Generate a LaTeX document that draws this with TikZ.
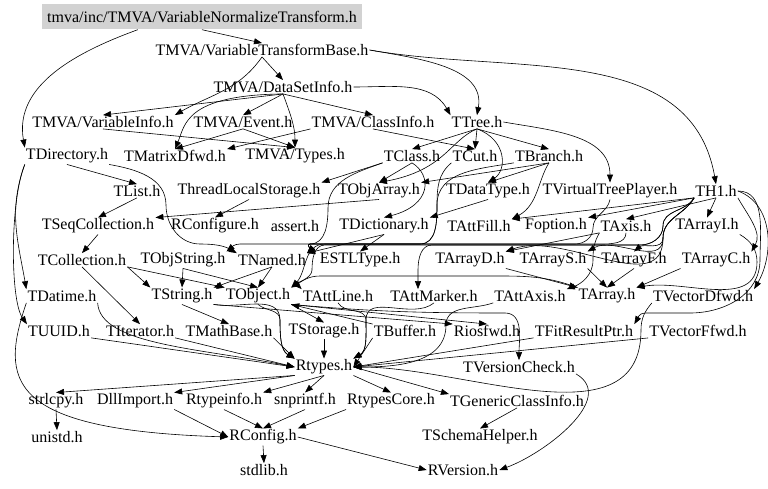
\documentclass[tikz,border=0pt]{standalone}
\usepackage{fontspec}
\setmainfont{Liberation Serif}
\usepackage{tikz}
\usetikzlibrary{arrows.meta,calc}

\begin{document}
\begin{tikzpicture}[x=1pt,y=-1pt]
	\tikzstyle{every node} = [inner sep = 1pt, font = \fontsize{16}{18}\selectfont]
	\tikzstyle{dep} = [draw, line width = 0.6pt, -{Triangle[length=8pt,width=6pt]}]
	\useasboundingbox (0,0) rectangle (768,489);
% top
\node[fill = gray!35, minimum width = 320, minimum height = 25] (vnt) at (202,17) {tmva/inc/TMVA/VariableNormalizeTransform.h};
\node (vtb) at (262,50) {TMVA/VariableTransformBase.h};
\node (dsi) at (283,87) {TMVA/DataSetInfo.h};
\node (vinfo) at (103,122) {TMVA/VariableInfo.h};
\node (event) at (243,122) {TMVA/Event.h};
\node (cinfo) at (373,122) {TMVA/ClassInfo.h};
\node (ttree) at (477,122) {TTree.h};
\node (tdir) at (67,156) {TDirectory.h};
\node (tmat) at (175,156) {TMatrixDfwd.h};
\node (types) at (295,156) {TMVA/Types.h};
\node (tclass) at (412,156) {TClass.h};
\node (tcut) at (475,156) {TCut.h};
\node (tbranch) at (549,156) {TBranch.h};
\node (tlist) at (137,191) {TList.h};
\node (tls) at (249,191) {ThreadLocalStorage.h};
\node (tobjarr) at (379,191) {TObjArray.h};
\node (tdtype) at (488,191) {TDataType.h};
\node (tvtp) at (610,191) {TVirtualTreePlayer.h};
\node (th1) at (716,191) {TH1.h};
\node (tseq) at (98,226) {TSeqCollection.h};
\node (rconfigure) at (215,226) {RConfigure.h};
\node (assert) at (295,226) {assert.h};
\node (tdict) at (384,226) {TDictionary.h};
\node (tattfill) at (479,226) {TAttFill.h};
\node (foption) at (556,226) {Foption.h};
\node (taxis) at (626,226) {TAxis.h};
\node (tarri) at (707,226) {TArrayI.h};
\node (tcoll) at (82,260) {TCollection.h};
\node (tobjstr) at (183,260) {TObjString.h};
\node (tnamed) at (272,260) {TNamed.h};
\node (estl) at (360,260) {ESTLType.h};
\node (tarrd) at (470,260) {TArrayD.h};
\node (tarrs) at (553,260) {TArrayS.h};
\node (tarrf) at (634,260) {TArrayF.h};
\node (tarrc) at (716,260) {TArrayC.h};
\node (tdatime) at (62,296) {TDatime.h};
\node (tstring) at (182,296) {TString.h};
\node (tobject) at (258,296) {TObject.h};
\node (tattline) at (338,296) {TAttLine.h};
\node (tattmarker) at (434,296) {TAttMarker.h};
\node (tattaxis) at (530,296) {TAttAxis.h};
\node (tarray) at (607,296) {TArray.h};
\node (tvecd) at (703,296) {TVectorDfwd.h};
\node (tuuid) at (59,331) {TUUID.h};
\node (titer) at (140,331) {TIterator.h};
\node (tmath) at (229,331) {TMathBase.h};
\node (tstorage) at (324,331) {TStorage.h};
\node (tbuffer) at (405,331) {TBuffer.h};
\node (riosfwd) at (487,331) {Riosfwd.h};
\node (tfit) at (584,331) {TFitResultPtr.h};
\node (tvecf) at (698,331) {TVectorFfwd.h};
% bottom
\node (rtypes) at (324,367) {Rtypes.h};
\node (tvcheck) at (519,367) {TVersionCheck.h};
\node (strlcpy) at (56,401) {strlcpy.h};
\node (dllimport) at (135,401) {DllImport.h};
\node (rtypeinfo) at (224,401) {Rtypeinfo.h};
\node (snprintf) at (305,401) {snprintf.h};
\node (rtcore) at (391,401) {RtypesCore.h};
\node (tgci) at (517,401) {TGenericClassInfo.h};
\node (unistd) at (57,437) {unistd.h};
\node (rconfig) at (263,437) {RConfig.h};
\node (tschema) at (480,437) {TSchemaHelper.h};
\node (stdlib) at (264,470) {stdlib.h};
\node (rversion) at (463,470) {RVersion.h};
% TMVA part
	\path[dep] (vnt.south) -- (vtb.north);
	\path[dep] (vnt.south west) ++(96,0) to[out=200,in=100] (tdir.north west);
	\path[dep] (vtb.south) -- (dsi.north);
	\path[dep] (vtb.south) to[out=235,in=30] (vinfo.north east);
	\path[dep] (vtb.east) to[out=-10,in=80] (ttree.north);
	\path[dep] (vtb.east) to[out=-10,in=100] (th1.north);
	\path[dep] (dsi.south) -- (vinfo.north);
	\path[dep] (dsi.south) -- (event.north);
	\path[dep] (dsi.south) -- (cinfo.north);
	\path[dep] (dsi.south) to[out=-70,in=90] (types.north);
	\path[dep] (dsi.east) to[out=0,in=120] (ttree.north west);
	\path[dep] (dsi.south) .. controls (185,95) and (185,125) .. (tmat.north);
	\path[dep] (event.south) -- (types.north);
	\path[dep] (event.south) -- (tmat.north);
	\path[dep] (cinfo.south west) -- (tmat.north east);
	\path[dep] (cinfo.south) -- (tcut.north);
	\path[dep] (vinfo.south) -- (types.north);
% TTree part
	\path[dep] (ttree.south) -- (tbranch.north);
	\path[dep] (ttree.south) .. controls (507,140) and (507,170) .. (tdtype.north);
	\path[dep] (ttree.east) to[out=-10,in=90] (tvtp.north);
	\path[dep] (ttree.south) .. controls (450,140) and (445,170) .. (tobjarr.north);
	\path[dep] (ttree.south) -- (tclass.north);
	\path[dep] (ttree.south) -- (tcut.north);
	\path[dep] (tdir.south east) to[out=-10,in=90] (166,205) to[out=-90,in=180] (200,244) to[out=0,in=150] (tnamed.north west);
	\path[dep] (tdir.south) -- (tlist.north);
	\path[dep] (tdir.south west) to[out=250,in=100] (tdatime.north west);
	\path[dep] (tdir.south west) .. controls (10,200) and (10,300) .. (tuuid.north west);
	\path[dep] (tclass.south) .. controls (432,175) and (432,205) .. (tdict.north);
	\path[dep] (tclass.south) -- (tobjarr.north);
	\path[dep] (tclass.south west) to[out=200,in=90] (328,208) to[out=-90,in=0] (310,244) -- (240,244) to[out=180,in=40] (tobjstr.north east);
	\path[dep] (tclass.south west) -- (tls.north east);
	\path[dep] (tcut.south west) to[out=220,in=90] (437,205) to[out=-90,in=0] (420,244) -- (310,244) to[out=180,in=45] (tnamed.north east);
	\path[dep] (tbranch.south west) to[out=190,in=90] (437,205) to[out=-90,in=0] (420,244) -- (310,244) to[out=180,in=45] (tnamed.north east);
	\path[dep] (tbranch.south) -- (tobjarr.north east);
	\path[dep] (tbranch.south) .. controls (538,180) and (538,205) .. (tattfill.north east);
	\path[dep] (tbranch.south) -- (tdtype.north);
	\path[dep] (tlist.south) -- (tseq.north);
	\path[dep] (tls.south) -- (rconfigure.north);
	\path[dep] (tobjarr.south) -- (tseq.north east);
	\path[dep] (tdtype.south) -- (tdict.north east);
	\path[dep] (tvtp.south) to[out=-100,in=90] (593,228) to[out=-90,in=0] (575,244) -- (325,244) to[out=180,in=45] (tobject.north east);
% TH1 part
	\path[dep] (th1.south) -- (taxis.north);
	\path[dep] (th1.south west) to[out=240,in=90] (663,226) to[out=-90,in=0] (640,245) -- (325,245) to[out=180,in=90] (312,270) to[out=-90,in=135] (tattline.north west);
	\path[dep] (th1.south west) -- (tattfill.north east);
	\path[dep] (th1.south west) to[out=240,in=90] (663,226) to[out=-90,in=0] (640,245) -- (432,245) to[out=180,in=90] (418,270) -- ([xshift=-16]tattmarker.north);
	\path[dep] (th1.south) -- (tarri.north);
	\path[dep] (th1.south east) to[out=-60,in=60] (tarrc.north east);
	\path[dep] (th1.south west) to[out=240,in=90] (663,238) to[out=-90,in=30] (tarrs.north east);
	\path[dep] (th1.south west) to[out=240,in=90] (663,238) to[out=-90,in=40] (tarrf.north);
	\path[dep] (th1.south west) to[out=240,in=90] (663,238) to[out=-90,in=20] (tarrd.north east);
	\path[dep] (th1.south west) -- (foption.north east);
	\path[dep] (th1.east) to[out=-20,in=60] (tvecd.north east);
	\path[dep] (th1.east) to[out=0,in=90] (760,260) to[out=-90,in=0] (690,313) -- (645,313) to[out=180,in=60] (tfit.north east);
	\path[dep] (tseq.south) -- (tcoll.north);
	\path[dep] (tdict.south) -- (tnamed.north east);
	\path[dep] (tdict.south) -- (estl.north);
	\path[dep] (taxis.south) to[out=-90,in=0] (600,244) -- (310,244) to[out=180,in=45] (tnamed.north east);
	\path[dep] (taxis.south west) to[out=240,in=90] (593,260) to[out=-90,in=20] (tattaxis.north east);
	\path[dep] (taxis.south west) -- (tarrd.north east);
	\path[dep] (tarri.south east) to[out=-30,in=90] (757,262) to[out=-90,in=10] (tarray.north east);
	\path[dep] (tarrd.south east) -- (tarray.north west);
	\path[dep] (tarrs.south east) -- (tarray.north);
	\path[dep] (tarrf.south) -- (tarray.north);
	\path[dep] (tarrc.south west) -- (tarray.north east);
% lower part
	\path[dep] (tcoll.south east) -- (tobject.north west);
	\path[dep] (tcoll.south) -- (titer.north);
	\path[dep] (tcoll.south east) -- (tstring.north west);
	\path[dep] (tobjstr.south) -- (tobject.north);
	\path[dep] (tobjstr.south) -- (tstring.north);
	\path[dep] (tnamed.south) -- (tobject.north);
	\path[dep] (tnamed.south) -- (tstring.north east);
	\path[dep] (tdatime.south east) .. controls (100,345) and (200,348) .. (rtypes.west);
	\path[dep] (tstring.south) -- (tmath.north);
	\path[dep] (tstring.south east) -- (riosfwd.north west);
	\path[dep] (tstring.south east) to[out=-10,in=90] (280,320) to[out=-90,in=150] (rtypes.north west);
	\path[dep] (tobject.south) to[out=-40,in=90] (280,320) to[out=-90,in=150] (rtypes.north west);
	\path[dep] (tobject.south east) -- (tstorage.north);
	\path[dep] (tobject.south east) to[out=-5,in=180] (505,313) to[out=0,in=90] (tvcheck.north);
	\path[dep] (tobject.south east) -- (riosfwd.north);
	\path[dep] (tattline.south) to[out=-60,in=90] (366,320) to[out=-90,in=30] (rtypes.north east);
	\path[dep] (tattmarker.south) to[out=220,in=90] (366,320) to[out=-90,in=30] (rtypes.north east);
	\path[dep] (tattaxis.south west) to[out=200,in=90] (446,325) to[out=-90,in=0] (rtypes.east);
	\path[dep] (tarray.north west) to[out=160,in=0] (500,276) -- (320,276) to[out=180,in=30] (tobject.north east);
	\path[dep] (tuuid.south east) -- (rtypes.west);
	\path[dep] (titer.south east) -- (rtypes.west);
	\path[dep] (tmath.south east) -- (rtypes.north west);
	\path[dep] (tstorage.south) -- (rtypes.north);
	\path[dep] (tbuffer.north west) -- (tobject.south east);
	\path[dep] (tbuffer.south west) -- (rtypes.east);
	\path[dep] (tfit.south west) -- (rtypes.east);
	\path[dep] (tvecf.south west) -- (rtypes.east);
	\path[dep] (tvecd.south west) to[out=230,in=90] (641,330) to[out=-90,in=0] (rtypes.east);
	\path[dep] (tvcheck.south east) to[out=-30,in=20] (rversion.east);
	\path[dep] (rtypes.south west) -- (strlcpy.north);
	\path[dep] (rtypes.south west) -- (dllimport.north east);
	\path[dep] (rtypes.south) -- (rtypeinfo.north east);
	\path[dep] (rtypes.south) -- (snprintf.north);
	\path[dep] (rtypes.south east) -- (rtcore.north);
	\path[dep] (rtypes.east) -- (tgci.north west);
	\path[dep] (strlcpy.south) -- (unistd.north);
	\path[dep] (dllimport.south east) -- (rconfig.west);
	\path[dep] (rtypeinfo.south) -- (rconfig.north);
	\path[dep] (snprintf.south) -- (rconfig.north);
	\path[dep] (rtcore.south west) -- (rconfig.north east);
	\path[dep] (tgci.south) -- (tschema.north);
	\path[dep] (rconfig.south) -- (stdlib.north);
	\path[dep] (rconfig.east) -- (rversion.west);
	\path[dep] (tdatime.south west) .. controls (0,380) and (5,430) .. (rconfig.west);
\end{tikzpicture}
\end{document}
